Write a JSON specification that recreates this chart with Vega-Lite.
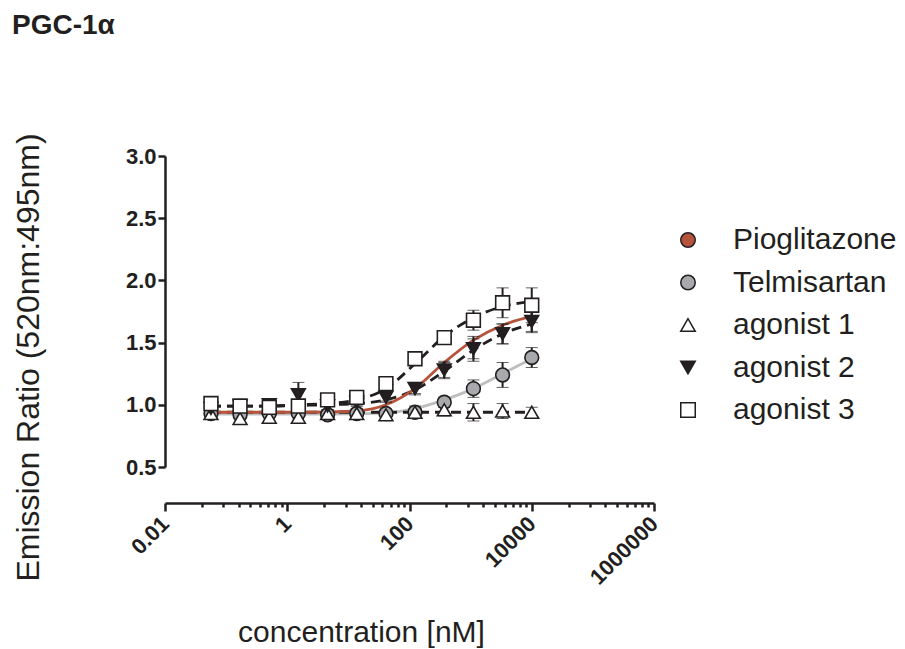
{
  "$schema": "https://vega.github.io/schema/vega-lite/v6.json",
  "width": 489,
  "height": 311,
  "autosize": {"type": "none"},
  "padding": {"left": 165, "top": 156, "right": 251, "bottom": 182},
  "background": "white",
  "title": {"text": "PGC-1α", "anchor": "start", "frame": "group", "font": "Liberation Sans", "fontSize": 28, "fontWeight": "bold", "color": "#231f20", "dx": -153, "offset": 93},
  "datasets": {
    "points": [
      {"s": "Pioglitazone", "c": 0.0565, "v": 0.97, "e": 0.03},
      {"s": "Pioglitazone", "c": 0.169, "v": 0.99, "e": 0.03},
      {"s": "Pioglitazone", "c": 0.508, "v": 1.0, "e": 0.03},
      {"s": "Pioglitazone", "c": 1.52, "v": 1.08, "e": 0.05},
      {"s": "Pioglitazone", "c": 4.57, "v": 0.99, "e": 0.03},
      {"s": "Pioglitazone", "c": 13.7, "v": 1.02, "e": 0.03},
      {"s": "Pioglitazone", "c": 41.2, "v": 1.06, "e": 0.03},
      {"s": "Pioglitazone", "c": 123, "v": 1.13, "e": 0.04},
      {"s": "Pioglitazone", "c": 370, "v": 1.28, "e": 0.06},
      {"s": "Pioglitazone", "c": 1111, "v": 1.45, "e": 0.08},
      {"s": "Pioglitazone", "c": 3333, "v": 1.57, "e": 0.08},
      {"s": "Pioglitazone", "c": 10000, "v": 1.67, "e": 0.08},
      {"s": "Telmisartan", "c": 0.0565, "v": 0.93, "e": 0.03},
      {"s": "Telmisartan", "c": 0.169, "v": 0.92, "e": 0.03},
      {"s": "Telmisartan", "c": 0.508, "v": 0.93, "e": 0.03},
      {"s": "Telmisartan", "c": 1.52, "v": 0.93, "e": 0.03},
      {"s": "Telmisartan", "c": 4.57, "v": 0.92, "e": 0.03},
      {"s": "Telmisartan", "c": 13.7, "v": 0.93, "e": 0.03},
      {"s": "Telmisartan", "c": 41.2, "v": 0.93, "e": 0.03},
      {"s": "Telmisartan", "c": 123, "v": 0.94, "e": 0.03},
      {"s": "Telmisartan", "c": 370, "v": 1.02, "e": 0.04},
      {"s": "Telmisartan", "c": 1111, "v": 1.13, "e": 0.07},
      {"s": "Telmisartan", "c": 3333, "v": 1.24, "e": 0.1},
      {"s": "Telmisartan", "c": 10000, "v": 1.38, "e": 0.08},
      {"s": "agonist 1", "c": 0.0565, "v": 0.93, "e": 0.04},
      {"s": "agonist 1", "c": 0.169, "v": 0.89, "e": 0.04},
      {"s": "agonist 1", "c": 0.508, "v": 0.9, "e": 0.03},
      {"s": "agonist 1", "c": 1.52, "v": 0.9, "e": 0.04},
      {"s": "agonist 1", "c": 4.57, "v": 0.93, "e": 0.03},
      {"s": "agonist 1", "c": 13.7, "v": 0.93, "e": 0.04},
      {"s": "agonist 1", "c": 41.2, "v": 0.92, "e": 0.04},
      {"s": "agonist 1", "c": 123, "v": 0.94, "e": 0.05},
      {"s": "agonist 1", "c": 370, "v": 0.96, "e": 0.05},
      {"s": "agonist 1", "c": 1111, "v": 0.94, "e": 0.07},
      {"s": "agonist 1", "c": 3333, "v": 0.95, "e": 0.06},
      {"s": "agonist 1", "c": 10000, "v": 0.94, "e": 0.04},
      {"s": "agonist 2", "c": 0.0565, "v": 0.97, "e": 0.03},
      {"s": "agonist 2", "c": 0.169, "v": 0.99, "e": 0.03},
      {"s": "agonist 2", "c": 0.508, "v": 1.0, "e": 0.03},
      {"s": "agonist 2", "c": 1.52, "v": 1.08, "e": 0.1},
      {"s": "agonist 2", "c": 4.57, "v": 0.99, "e": 0.03},
      {"s": "agonist 2", "c": 13.7, "v": 1.02, "e": 0.03},
      {"s": "agonist 2", "c": 41.2, "v": 1.06, "e": 0.04},
      {"s": "agonist 2", "c": 123, "v": 1.13, "e": 0.05},
      {"s": "agonist 2", "c": 370, "v": 1.28, "e": 0.07},
      {"s": "agonist 2", "c": 1111, "v": 1.45, "e": 0.1},
      {"s": "agonist 2", "c": 3333, "v": 1.57, "e": 0.08},
      {"s": "agonist 2", "c": 10000, "v": 1.67, "e": 0.09},
      {"s": "agonist 3", "c": 0.0565, "v": 1.01, "e": 0.04},
      {"s": "agonist 3", "c": 0.169, "v": 0.99, "e": 0.03},
      {"s": "agonist 3", "c": 0.508, "v": 0.98, "e": 0.03},
      {"s": "agonist 3", "c": 1.52, "v": 0.99, "e": 0.03},
      {"s": "agonist 3", "c": 4.57, "v": 1.04, "e": 0.04},
      {"s": "agonist 3", "c": 13.7, "v": 1.06, "e": 0.03},
      {"s": "agonist 3", "c": 41.2, "v": 1.17, "e": 0.04},
      {"s": "agonist 3", "c": 123, "v": 1.37, "e": 0.04},
      {"s": "agonist 3", "c": 370, "v": 1.54, "e": 0.04},
      {"s": "agonist 3", "c": 1111, "v": 1.68, "e": 0.08},
      {"s": "agonist 3", "c": 3333, "v": 1.82, "e": 0.12},
      {"s": "agonist 3", "c": 10000, "v": 1.8, "e": 0.14}
    ],
    "curves": [
      {"s": "Telmisartan", "c": 0.0565, "v": 0.925},
      {"s": "Telmisartan", "c": 0.169, "v": 0.925},
      {"s": "Telmisartan", "c": 0.508, "v": 0.925},
      {"s": "Telmisartan", "c": 1.52, "v": 0.925},
      {"s": "Telmisartan", "c": 4.57, "v": 0.925},
      {"s": "Telmisartan", "c": 13.7, "v": 0.927},
      {"s": "Telmisartan", "c": 41.2, "v": 0.935},
      {"s": "Telmisartan", "c": 123, "v": 0.97},
      {"s": "Telmisartan", "c": 370, "v": 1.04},
      {"s": "Telmisartan", "c": 1111, "v": 1.13},
      {"s": "Telmisartan", "c": 3333, "v": 1.25},
      {"s": "Telmisartan", "c": 10000, "v": 1.37},
      {"s": "agonist 1", "c": 0.0565, "v": 0.94},
      {"s": "agonist 1", "c": 0.169, "v": 0.94},
      {"s": "agonist 1", "c": 0.508, "v": 0.94},
      {"s": "agonist 1", "c": 1.52, "v": 0.94},
      {"s": "agonist 1", "c": 4.57, "v": 0.94},
      {"s": "agonist 1", "c": 13.7, "v": 0.94},
      {"s": "agonist 1", "c": 41.2, "v": 0.94},
      {"s": "agonist 1", "c": 123, "v": 0.94},
      {"s": "agonist 1", "c": 370, "v": 0.94},
      {"s": "agonist 1", "c": 1111, "v": 0.94},
      {"s": "agonist 1", "c": 3333, "v": 0.94},
      {"s": "agonist 1", "c": 10000, "v": 0.94},
      {"s": "agonist 2", "c": 0.0565, "v": 0.99},
      {"s": "agonist 2", "c": 0.169, "v": 0.99},
      {"s": "agonist 2", "c": 0.508, "v": 0.99},
      {"s": "agonist 2", "c": 1.52, "v": 0.995},
      {"s": "agonist 2", "c": 4.57, "v": 1.0},
      {"s": "agonist 2", "c": 13.7, "v": 1.01},
      {"s": "agonist 2", "c": 41.2, "v": 1.04},
      {"s": "agonist 2", "c": 123, "v": 1.12},
      {"s": "agonist 2", "c": 370, "v": 1.27},
      {"s": "agonist 2", "c": 1111, "v": 1.44},
      {"s": "agonist 2", "c": 3333, "v": 1.57},
      {"s": "agonist 2", "c": 10000, "v": 1.65},
      {"s": "agonist 3", "c": 0.0565, "v": 0.99},
      {"s": "agonist 3", "c": 0.169, "v": 0.99},
      {"s": "agonist 3", "c": 0.508, "v": 0.99},
      {"s": "agonist 3", "c": 1.52, "v": 1.0},
      {"s": "agonist 3", "c": 4.57, "v": 1.01},
      {"s": "agonist 3", "c": 13.7, "v": 1.04},
      {"s": "agonist 3", "c": 41.2, "v": 1.13},
      {"s": "agonist 3", "c": 123, "v": 1.33},
      {"s": "agonist 3", "c": 370, "v": 1.55},
      {"s": "agonist 3", "c": 1111, "v": 1.7},
      {"s": "agonist 3", "c": 3333, "v": 1.79},
      {"s": "agonist 3", "c": 10000, "v": 1.83},
      {"s": "Pioglitazone", "c": 0.0565, "v": 0.94},
      {"s": "Pioglitazone", "c": 0.169, "v": 0.94},
      {"s": "Pioglitazone", "c": 0.508, "v": 0.94},
      {"s": "Pioglitazone", "c": 1.52, "v": 0.94},
      {"s": "Pioglitazone", "c": 4.57, "v": 0.942},
      {"s": "Pioglitazone", "c": 13.7, "v": 0.95},
      {"s": "Pioglitazone", "c": 41.2, "v": 1.0},
      {"s": "Pioglitazone", "c": 123, "v": 1.13},
      {"s": "Pioglitazone", "c": 370, "v": 1.34},
      {"s": "Pioglitazone", "c": 1111, "v": 1.52},
      {"s": "Pioglitazone", "c": 3333, "v": 1.64},
      {"s": "Pioglitazone", "c": 10000, "v": 1.71}
    ]
  },
  "encoding": {
    "x": {
      "field": "c", "type": "quantitative",
      "scale": {"type": "log", "domain": [0.01, 1000000], "nice": false},
      "axis": {
        "values": [0.01, 0.04, 0.09, 0.16, 0.25, 0.36, 0.49, 0.64, 0.81, 1, 4, 9, 16, 25, 36, 49, 64, 81, 100, 400, 900, 1600, 2500, 3600, 4900, 6400, 8100, 10000, 40000, 90000, 160000, 250000, 360000, 490000, 640000, 810000, 1000000],
        "labelExpr": "indexof([0.01, 1, 100, 10000, 1000000], datum.value) >= 0 ? format(datum.value, '~f') : ''",
        "tickSize": {"condition": {"test": "indexof([0.01, 1, 100, 10000, 1000000], datum.value) >= 0", "value": 8}, "value": 4},
        "offset": 36,
        "labelAngle": -45,
        "labelAlign": "right",
        "labelBaseline": "middle",
        "labelFont": "Liberation Sans",
        "labelFontWeight": "bold",
        "labelFontSize": 22,
        "labelPadding": 9,
        "labelOverlap": false,
        "labelFlush": false,
        "title": "concentration [nM]",
        "titleFont": "Liberation Sans",
        "titleFontSize": 30,
        "titleFontWeight": "normal",
        "titleX": 196,
        "titleY": 138,
        "titleBaseline": "alphabetic"
      }
    },
    "y": {
      "field": "v", "type": "quantitative",
      "scale": {"domain": [0.5, 3.0], "zero": false, "nice": false},
      "axis": {
        "values": [0.5, 1.0, 1.5, 2.0, 2.5, 3.0],
        "format": ".1f",
        "tickSize": 7,
        "labelFont": "Liberation Sans",
        "labelFontWeight": "bold",
        "labelFontSize": 22,
        "labelPadding": 2,
        "title": "Emission Ratio (520nm:495nm)",
        "titleFont": "Liberation Sans",
        "titleFontSize": 32,
        "titleFontWeight": "normal",
        "titleX": -120,
        "titleY": 201
      }
    }
  },
  "layer": [
    {
      "data": {"name": "curves"},
      "transform": [{"filter": "datum.s == 'Telmisartan'"}],
      "mark": {"type": "line", "interpolate": "monotone", "strokeWidth": 2.8, "color": "#bcbec0"},
      "encoding": {}
    },
    {
      "data": {"name": "curves"},
      "transform": [{"filter": "datum.s != 'Telmisartan' && datum.s != 'Pioglitazone'"}],
      "mark": {"type": "line", "interpolate": "monotone", "strokeWidth": 2.8, "color": "#231f20", "strokeDash": [10, 6]},
      "encoding": {"detail": {"field": "s"}}
    },
    {
      "data": {"name": "curves"},
      "transform": [{"filter": "datum.s == 'Pioglitazone'"}],
      "mark": {"type": "line", "interpolate": "monotone", "strokeWidth": 2.8, "color": "#b5533c"},
      "encoding": {}
    },
    {
      "data": {"name": "points"},
      "mark": {"type": "errorbar", "ticks": {"size": 12, "color": "#231f20", "strokeWidth": 2}, "rule": {"color": "#231f20", "strokeWidth": 2}},
      "encoding": {
        "y": {"field": "v", "type": "quantitative"},
        "yError": {"field": "e"},
        "detail": {"field": "s"}
      }
    },
    {
      "data": {"name": "points"},
      "transform": [{"filter": "datum.s == 'Pioglitazone'"}],
      "mark": {"type": "point", "shape": "circle", "filled": true, "fill": "#b5533c", "stroke": "#231f20", "strokeWidth": 1, "size": 40, "opacity": 1},
      "encoding": {}
    },
    {
      "data": {"name": "points"},
      "transform": [{"filter": "datum.s != 'Pioglitazone'"}],
      "mark": {"type": "point", "filled": true, "strokeWidth": 1.6, "size": 190, "opacity": 1},
      "encoding": {
        "shape": {"field": "s", "type": "nominal", "title": null,
          "scale": {"domain": ["Pioglitazone", "Telmisartan", "agonist 1", "agonist 2", "agonist 3"], "range": ["circle", "circle", "triangle-up", "triangle-down", "square"]},
          "legend": {"orient": "none", "legendX": 508, "legendY": 69}},
        "fill": {"field": "s", "type": "nominal", "title": null,
          "scale": {"domain": ["Pioglitazone", "Telmisartan", "agonist 1", "agonist 2", "agonist 3"], "range": ["#b5533c", "#a7a9ac", "white", "#231f20", "white"]},
          "legend": {"orient": "none", "legendX": 508, "legendY": 69}},
        "stroke": {"field": "s", "type": "nominal", "title": null,
          "scale": {"domain": ["Pioglitazone", "Telmisartan", "agonist 1", "agonist 2", "agonist 3"], "range": ["#231f20", "#231f20", "#231f20", "#231f20", "#231f20"]},
          "legend": {"orient": "none", "legendX": 508, "legendY": 69}}
      }
    }
  ],
  "config": {
    "view": {"stroke": null},
    "font": "Liberation Sans",
    "axis": {"grid": false, "domainColor": "#231f20", "tickColor": "#231f20", "domainWidth": 2.5, "tickWidth": 2.5, "labelColor": "#231f20", "titleColor": "#231f20"},
    "legend": {
      "labelFont": "Liberation Sans", "labelFontSize": 30, "labelColor": "#231f20",
      "symbolSize": 210, "symbolStrokeWidth": 1.5,
      "rowPadding": 12.5, "labelOffset": 30, "labelLimit": 400
    }
  }
}
